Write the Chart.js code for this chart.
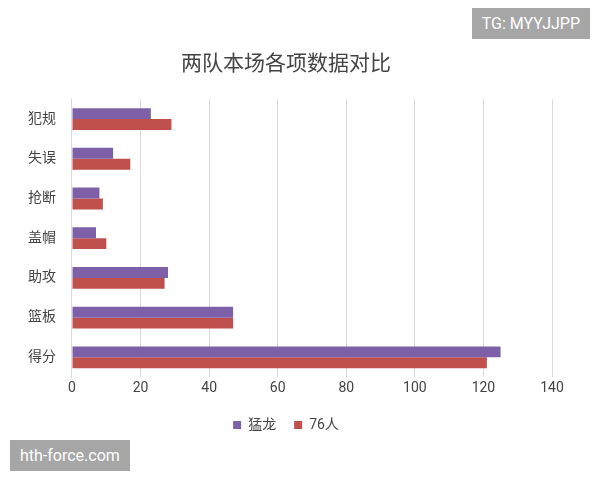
<!DOCTYPE html>
<html lang="zh">
<head>
<meta charset="UTF-8">
<script src="https://cdn.jsdelivr.net/npm/chart.js"></script>
<style>
  body { margin: 0; background: #fff; }
  .wrap { position: relative; width: 600px; height: 480px; }
  .tag { position: absolute; background: #a6a6a6; color: #fff; font-family: Roboto, "Noto Sans CJK SC", sans-serif; font-size: 16px; padding: 6px 10px; }
</style>
</head>
<body>
<div class="wrap">
  <canvas id="c" width="600" height="480"></canvas>
  <div class="tag" style="right:10px; top:8px;">TG: MYYJJPP</div>
  <div class="tag" style="left:10px; top:440px;">hth-force.com</div>
</div>
<script>
const categories = ['犯规', '失误', '抢断', '盖帽', '助攻', '篮板', '得分'];
const raptors = [23, 12, 8, 7, 28, 47, 125];
const sixers = [29, 17, 9, 10, 27, 47, 121];
const font = "Roboto, 'Noto Sans CJK SC', sans-serif";

new Chart(document.getElementById('c'), {
  type: 'bar',
  data: {
    labels: categories,
    datasets: [
      { label: '猛龙', data: raptors, backgroundColor: '#7e60a8', barPercentage: 1, categoryPercentage: 0.55 },
      { label: '76人', data: sixers, backgroundColor: '#c0504d', barPercentage: 1, categoryPercentage: 0.55 }
    ]
  },
  options: {
    indexAxis: 'y',
    responsive: false,
    animation: false,
    layout: { padding: { left: 20, right: 48, top: 52, bottom: 38 } },
    plugins: {
      title: { display: true, text: '两队本场各项数据对比', color: '#444', font: { family: font, size: 21, weight: 'normal' }, padding: { bottom: 22 } },
      legend: { position: 'bottom', labels: { boxWidth: 8, boxHeight: 8, color: '#444', font: { family: font, size: 14 }, padding: 18 } }
    },
    scales: {
      x: {
        min: 0, max: 140,
        ticks: { stepSize: 20, color: '#444', font: { family: font, size: 14 } },
        grid: { color: '#d9d9d9', drawTicks: false },
        border: { display: false }
      },
      y: {
        ticks: { color: '#444', font: { family: font, size: 14 }, padding: 8 },
        grid: { display: false },
        border: { color: '#d9d9d9' }
      }
    }
  }
});
</script>
</body>
</html>
